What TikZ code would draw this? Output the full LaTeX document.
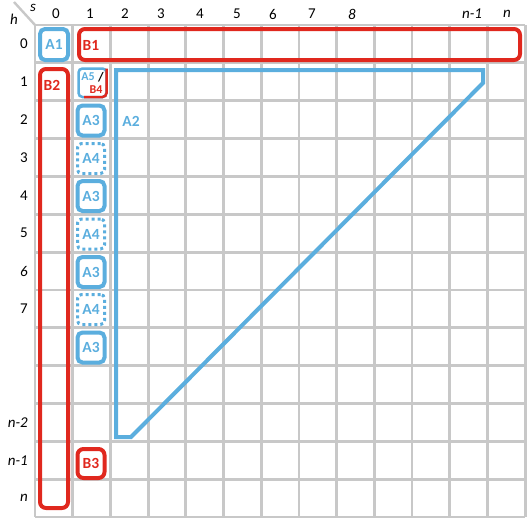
\documentclass[tikz,border=0pt]{standalone}
\usepackage{fontspec}
\setmainfont{Carlito}
\definecolor{cblue}{HTML}{5BAEDE}
\definecolor{cred}{HTML}{E0281E}
\definecolor{cgrid}{HTML}{C8C8C8}
\begin{document}
\begin{tikzpicture}[x=1pt,y=-1pt,
  gridline/.style={draw=cgrid,line width=2.8pt},
  axlab/.style={font=\fontsize{15}{17}\selectfont,inner sep=0pt},
  axit/.style={font=\fontsize{15}{17}\selectfont\itshape,inner sep=0pt},
  boxlab/.style={font=\fontsize{15.5}{17}\selectfont\bfseries,inner sep=0pt},
  bluebox/.style={draw=cblue,line width=4pt,rounded corners=5pt,boxlab,text=cblue,minimum width=27pt,minimum height=30pt},
  dotbox/.style={draw=cblue,line width=3pt,dash pattern=on 3pt off 3pt,rounded corners=4pt,boxlab,text=cblue,minimum width=27pt,minimum height=30pt},
  redbox/.style={draw=cred,line width=4pt,rounded corners=6pt,boxlab,text=cred},
  blueline/.style={draw=cblue,line width=4pt},
  redline/.style={draw=cred,line width=2.5pt}]
\useasboundingbox (0,0) rectangle (532,522);
% grid
\foreach \k in {0,...,13}{
  \draw[gridline] ({35+37.7*\k},25) -- ({35+37.7*\k},517);
  \draw[gridline] (35,{25+37.85*\k}) -- (525,{25+37.85*\k});
}
\draw[draw=cgrid,line width=2.4pt] (14,2) -- (35,25);
\node[axit] (hlab) at (14,19) {h};
\node[axit] (slab) at (33,8) {s};
% column labels
\foreach \x/\t in {56/0,90/1,125/2,161/3,200/4,237/5,273/6,312/7}
  \node[axlab] (c\t) at (\x,14) {\t};
\node[axit] (c8) at (352,14) {8};
\node[axit] (cn1) at (472,14) {n-1};
\node[axit] (cn) at (507,14) {n};
% row labels
\foreach \r/\t in {0/0,1/1,2/2,3/3,4/4,5/5,7/7}
  \node[axlab,anchor=east] (r\r) at (28,{25+37.85*(\r+0.5)}) {\t};
\node[axit,anchor=east] (r6) at (28,{25+37.85*6.5}) {6};
\node[axit,anchor=east] (r10) at (28,{25+37.85*10.5}) {n-2};
\node[axit,anchor=east] (r11) at (28,{25+37.85*11.5}) {n-1};
\node[axit,anchor=east] (r12) at (28,{25+37.85*12.5}) {n};
% A1, B1, B2
\node[bluebox,minimum width=28pt,minimum height=31pt] (A1) at (54,44.5) {A1};
\draw[redbox] (79,29) rectangle (520,60);
\node[boxlab,text=cred] (B1) at (91,45) {B1};
\draw[redbox] (40,69) rectangle (68,508);
\node[boxlab,text=cred] (B2) at (52,85) {B2};
% A5/B4
\draw[draw=cblue,line width=2.5pt,rounded corners=4pt] (78.5,68.5) rectangle (106.5,97);
\draw[redline,rounded corners=4pt] (106.5,68.5) -- (106.5,97) -- (84,97);
\node[inner sep=0pt,font=\fontsize{12}{13}\selectfont\bfseries,text=cblue] (A5) at (88,76.5) {A5};
\node[inner sep=0pt,font=\fontsize{13}{14}\selectfont\bfseries] (slash) at (101,77) {/};
\node[inner sep=0pt,font=\fontsize{12}{13}\selectfont\bfseries,text=cred] (B4) at (96,89.5) {B4};
% A3 / A4 column
\node[bluebox] (A3a) at (91,120.5) {A3};
\node[dotbox] (A4a) at (91,158.5) {A4};
\node[bluebox] (A3b) at (91,196) {A3};
\node[dotbox] (A4b) at (91,234) {A4};
\node[bluebox] (A3c) at (91,272) {A3};
\node[dotbox] (A4c) at (91,309.5) {A4};
\node[bluebox] (A3d) at (91,347.5) {A3};
% B3
\node[redbox,minimum width=27pt,minimum height=29pt] (B3) at (91,463.5) {B3};
% A2 triangle
\draw[blueline,line join=miter] (116,70) -- (483,70) -- (483,83) -- (131,437) -- (116,437) -- cycle;
\node[boxlab,text=cblue] (A2) at (131,121) {A2};
\end{tikzpicture}
\end{document}
